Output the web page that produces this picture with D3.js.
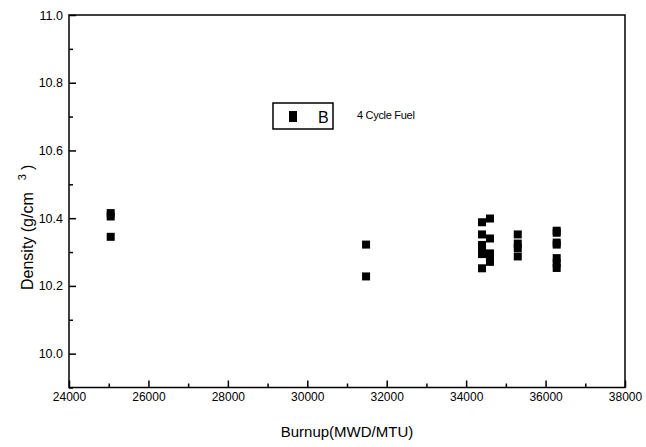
<!DOCTYPE html>
<html><head><meta charset="utf-8">
<script src="https://cdn.jsdelivr.net/npm/d3@7"></script>
<style>body{margin:0;background:#fff}svg{display:block}text{font-family:"Liberation Sans",Arial,sans-serif;fill:#000}</style>
</head><body><svg id="c" width="646" height="447"></svg>
<script>
const burnup = [25050,25050,25050, 31480,31480,
  34400,34400,34400,34400,34400,34400,
  34600,34600,34600,34600,34600,
  35300,35300,35300,35300,
  36280,36280,36280,36280,36280,36280,36280];
const density = [10.415,10.405,10.345, 10.322,10.228,
  10.388,10.352,10.321,10.308,10.294,10.252,
  10.399,10.340,10.296,10.284,10.271,
  10.352,10.325,10.312,10.287,
  10.363,10.357,10.328,10.322,10.282,10.267,10.253];
const xTicks = [24000,26000,28000,30000,32000,34000,36000,38000];
const yTicks = [10.0,10.2,10.4,10.6,10.8,11.0];
const legendLabel = "B";
const noteText = "4 Cycle Fuel";

const svg = d3.select("#c");
const L=69,R=625,T=15,B=387.5;
const x = d3.scaleLinear().domain([24000,38000]).range([L,R]);
const y = d3.scaleLinear().domain([9.9,11.0]).range([B,T]);

// frame
svg.append("rect").attr("x",L).attr("y",T).attr("width",R-L).attr("height",B-T)
  .attr("fill","none").attr("stroke","#000").attr("stroke-width",1.5);

// x axis
const xAxis = d3.axisBottom(x).tickValues(xTicks).tickFormat(d3.format("d")).tickSize(-7).tickPadding(5);
const gx = svg.append("g").attr("transform",`translate(0,${B})`).call(xAxis);
gx.select(".domain").remove();
gx.selectAll("line").attr("stroke-width",1.5);
gx.selectAll("text").attr("font-size",12).attr("font-family","Liberation Sans, Arial, sans-serif");
const xMinor = d3.axisBottom(x).tickValues(d3.range(25000,38000,2000)).tickSize(-4).tickFormat("");
const gxm = svg.append("g").attr("transform",`translate(0,${B})`).call(xMinor);
gxm.select(".domain").remove(); gxm.selectAll("line").attr("stroke-width",1.5);

// y axis
const yAxis = d3.axisLeft(y).tickValues(yTicks).tickFormat(d3.format(".1f")).tickSize(-7).tickPadding(6);
const gy = svg.append("g").attr("transform",`translate(${L},0)`).call(yAxis);
gy.select(".domain").remove();
gy.selectAll("line").attr("stroke-width",1.5);
gy.selectAll("text").attr("font-size",12.5).attr("font-family","Liberation Sans, Arial, sans-serif");
const yMinor = d3.axisLeft(y).tickValues([9.9,10.1,10.3,10.5,10.7,10.9]).tickSize(-4).tickFormat("");
const gym = svg.append("g").attr("transform",`translate(${L},0)`).call(yMinor);
gym.select(".domain").remove(); gym.selectAll("line").attr("stroke-width",1.5);

// points
const s=8;
svg.append("g").selectAll("rect").data(burnup).join("rect")
  .attr("x",(d)=>x(d)-s/2).attr("y",(d,i)=>y(density[i])-s/2)
  .attr("width",s).attr("height",s).attr("fill","#000");

// legend
svg.append("rect").attr("x",273).attr("y",103).attr("width",60).attr("height",26)
  .attr("fill","none").attr("stroke","#000").attr("stroke-width",1.5);
svg.append("rect").attr("x",289).attr("y",111).attr("width",8).attr("height",11).attr("fill","#000");
svg.append("text").attr("x",318).attr("y",122.5).attr("font-size",16).text(legendLabel);
svg.append("text").attr("x",357).attr("y",118.5).attr("font-size",11).attr("letter-spacing",-0.3).text(noteText);

// axis titles
svg.append("text").attr("x",(L+R)/2).attr("y",437).attr("text-anchor","middle").attr("font-size",15).text("Burnup(MWD/MTU)");
const yt = svg.append("text").attr("transform","translate(33,290) rotate(-90)").attr("font-size",16);
yt.append("tspan").text("Density (g/cm");
yt.append("tspan").attr("dx",12).attr("dy",-7).attr("font-size",11).text("3");
yt.append("tspan").attr("dx",4).attr("dy",7).text(")");
</script></body></html>
